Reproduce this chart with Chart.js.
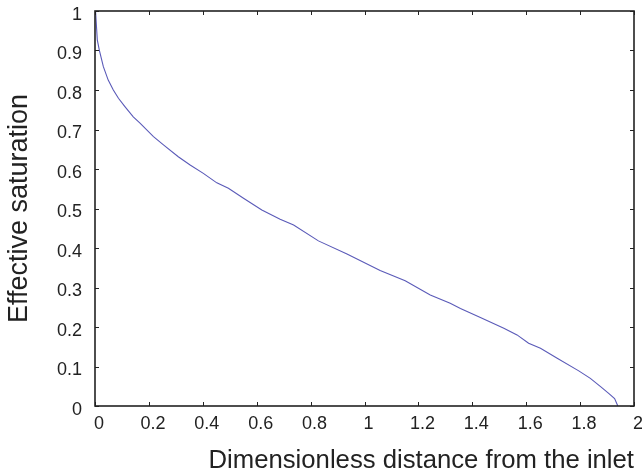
<!DOCTYPE html>
<html>
<head>
<meta charset="utf-8">
<script src="https://cdn.jsdelivr.net/npm/chart.js@4.4.0/dist/chart.umd.min.js"></script>
<style>
  html, body { margin: 0; padding: 0; background: #fff; }
  #wrap { width: 642px; height: 476px; }
</style>
</head>
<body>
<div id="wrap"><canvas id="mychart" width="642" height="476"></canvas></div>
<script>
// distance (dimensionless) and effective saturation
const distance = [0.002, 0.006, 0.0085, 0.016, 0.031, 0.049, 0.068, 0.087, 0.111, 0.142,
  0.167, 0.217, 0.254, 0.309, 0.353, 0.402, 0.452, 0.495, 0.551, 0.619,
  0.687, 0.737, 0.829, 0.935, 1.058, 1.151, 1.244, 1.318, 1.356, 1.430,
  1.517, 1.566, 1.609, 1.653, 1.715, 1.795, 1.838, 1.876, 1.906, 1.928, 1.940];
const saturation = [1.0, 0.955, 0.927, 0.901, 0.859, 0.825, 0.8, 0.779, 0.758, 0.732,
  0.716, 0.682, 0.661, 0.631, 0.610, 0.589, 0.565, 0.551, 0.526, 0.496,
  0.473, 0.458, 0.418, 0.385, 0.343, 0.317, 0.281, 0.260, 0.247, 0.224,
  0.197, 0.18, 0.159, 0.146, 0.121, 0.089, 0.070, 0.049, 0.032, 0.019, 0.0];

const xTicks = [0, 0.2, 0.4, 0.6, 0.8, 1, 1.2, 1.4, 1.6, 1.8, 2];
const yTicks = [0, 0.1, 0.2, 0.3, 0.4, 0.5, 0.6, 0.7, 0.8, 0.9, 1];

const points = distance.map((d, i) => ({ x: d, y: saturation[i] }));

const FONT = '"Liberation Sans", Arial, sans-serif';

// box around the plot + short inward ticks on all four sides
const frameTicks = {
  id: 'frameTicks',
  afterDraw(chart) {
    const { ctx, chartArea: a, scales } = chart;
    const len = 4;
    ctx.save();
    ctx.strokeStyle = '#222';
    ctx.lineWidth = 1;
    ctx.beginPath();
    xTicks.forEach(v => {
      const px = Math.round(scales.x.getPixelForValue(v)) + 0.5;
      ctx.moveTo(px, a.bottom); ctx.lineTo(px, a.bottom - len);
      ctx.moveTo(px, a.top); ctx.lineTo(px, a.top + len);
    });
    yTicks.forEach(v => {
      const py = Math.round(scales.y.getPixelForValue(v)) + 0.5;
      ctx.moveTo(a.left, py); ctx.lineTo(a.left + len, py);
      ctx.moveTo(a.right, py); ctx.lineTo(a.right - len, py);
    });
    ctx.stroke();
    ctx.lineWidth = 1.6;
    ctx.strokeRect(a.left, a.top, a.right - a.left, a.bottom - a.top);
    ctx.restore();
  }
};

const canvas = document.getElementById('mychart');
new Chart(canvas, {
  type: 'scatter',
  data: {
    datasets: [{
      data: points,
      showLine: true,
      borderColor: '#5a5ab8',
      borderWidth: 1.1,
      pointRadius: 0,
      tension: 0,
      fill: false
    }]
  },
  options: {
    responsive: false,
    animation: false,
    devicePixelRatio: 1,
    layout: { padding: { top: 11, right: 8, left: 0, bottom: 0 } },
    plugins: { legend: { display: false }, tooltip: { enabled: false } },
    scales: {
      x: {
        type: 'linear',
        min: 0, max: 2,
        afterBuildTicks: s => { s.ticks = xTicks.map(v => ({ value: v })); },
        afterFit: s => { s.height = 70; s.paddingLeft = 0; s.paddingRight = 0; },
        grid: { display: false, drawTicks: false },
        border: { display: false },
        ticks: {
          autoSkip: false,
          maxRotation: 0,
          padding: 7,
          labelOffset: 4,
          color: '#222',
          font: { family: FONT, size: 18 },
          callback: v => String(v)
        },
        title: {
          display: true,
          text: 'Dimensionless distance from the inlet',
          align: 'end',
          color: '#222',
          font: { family: FONT, size: 25.7 },
          padding: { top: 0, bottom: 0 }
        }
      },
      y: {
        type: 'linear',
        min: 0, max: 1,
        afterBuildTicks: s => { s.ticks = yTicks.map(v => ({ value: v })); },
        afterFit: s => { s.width = 95; s.paddingTop = 0; s.paddingBottom = 0; },
        grid: { display: false, drawTicks: false },
        border: { display: false },
        ticks: {
          autoSkip: false,
          padding: 13,
          labelOffset: 4,
          color: '#222',
          font: { family: FONT, size: 18 },
          callback: v => String(v)
        },
        title: {
          display: true,
          text: 'Effective saturation',
          color: '#222',
          font: { family: FONT, size: 27 },
          padding: { top: 3, bottom: 0 }
        }
      }
    }
  },
  plugins: [frameTicks]
});
</script>
</body>
</html>
